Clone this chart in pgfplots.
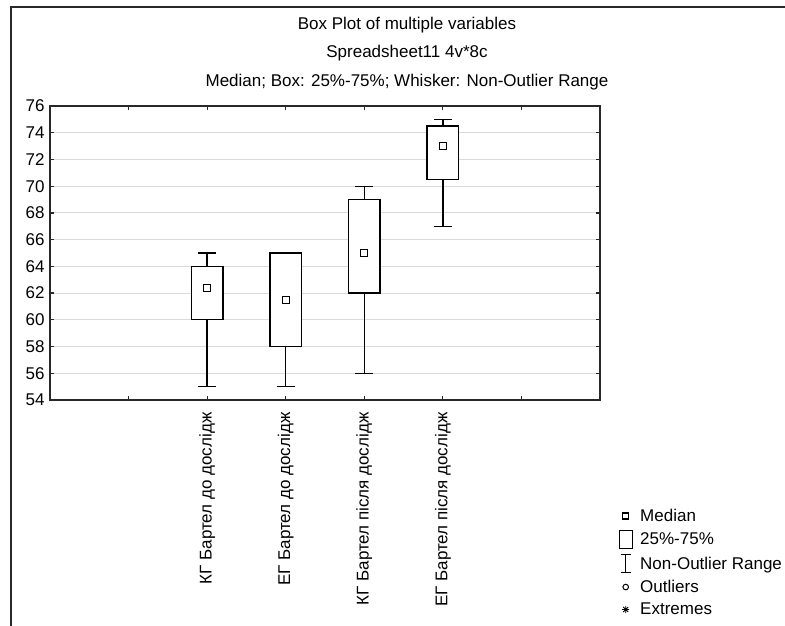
\documentclass[border=0pt]{standalone}
\usepackage{pgfplots}
\pgfplotsset{compat=1.18}
\usepackage{fontspec}
\setmainfont{Liberation Sans}
\newcommand{\ff}{\fontsize{17bp}{20bp}\selectfont}
\definecolor{gridgray}{RGB}{218,218,218}
\definecolor{axisdark}{RGB}{40,40,40}
\begin{document}
\begin{tikzpicture}
\path[use as bounding box] (0,0) rectangle (785bp,626bp);
\draw[line width=1.4bp, axisdark] (11bp,0) -- (11bp,619bp) -- (785bp,619bp);
\node[anchor=base, font=\ff] at (407bp,596bp) {Box Plot of multiple variables};
\node[anchor=base, font=\ff] at (407bp,568bp) {Spreadsheet11 4v*8c};
\node[anchor=base, font=\ff] at (407bp,539bp) {Median; Box: 25\%-75\%; Whisker: Non-Outlier Range};
\begin{axis}[
  at={(50bp,226bp)}, anchor=south west,
  scale only axis, width=550bp, height=294bp,
  xmin=0, xmax=7, ymin=54, ymax=76,
  ytick={54,56,...,76},
  xtick={1,2,3,4,5,6},
  xticklabels={{},{КГ Бартел до дослідж},{ЕГ Бартел до дослідж},{КГ Бартел після дослідж},{ЕГ Бартел після дослідж},{}},
  /pgf/number format/assume math mode=true,
  tick label style={font=\ff},
  yticklabel style={xshift=-2bp},
  xticklabel style={yshift=-9bp, rotate=90, anchor=east},
  tick align=inside, major tick length=4bp,
  every tick/.style={axisdark, line width=1.2bp},
  axis line style={axisdark, line width=1.4bp},
  ymajorgrids, grid style={gridgray, line width=1bp},
  legend cell align=left,
  legend style={at={(1.0255,-0.357)}, anchor=north west, draw=none, fill=none, font=\ff, row sep=5bp},
]
% whiskers (lower whisker -> upper whisker)
\addplot[black, line width=1.3bp, forget plot] coordinates {(2,55) (2,65)};
\addplot[black, line width=1.3bp, forget plot] coordinates {(3,55) (3,65)};
\addplot[black, line width=1.3bp, forget plot] coordinates {(4,56) (4,70)};
\addplot[black, line width=1.3bp, forget plot] coordinates {(5,67) (5,75)};
% whisker caps
\addplot[black, line width=1.3bp, forget plot] coordinates {(1.885,55) (2.115,55)};
\addplot[black, line width=1.3bp, forget plot] coordinates {(1.885,65) (2.115,65)};
\addplot[black, line width=1.3bp, forget plot] coordinates {(2.885,55) (3.115,55)};
\addplot[black, line width=1.3bp, forget plot] coordinates {(3.885,56) (4.115,56)};
\addplot[black, line width=1.3bp, forget plot] coordinates {(3.885,70) (4.115,70)};
\addplot[black, line width=1.3bp, forget plot] coordinates {(4.885,67) (5.115,67)};
\addplot[black, line width=1.3bp, forget plot] coordinates {(4.885,75) (5.115,75)};
% boxes 25%-75%
\addplot[draw=black, fill=white, line width=1.3bp, forget plot] coordinates {(1.8,60) (2.2,60) (2.2,64) (1.8,64)} -- cycle;
\addplot[draw=black, fill=white, line width=1.3bp, forget plot] coordinates {(2.8,58) (3.2,58) (3.2,65) (2.8,65)} -- cycle;
\addplot[draw=black, fill=white, line width=1.3bp, forget plot] coordinates {(3.8,62) (4.2,62) (4.2,69) (3.8,69)} -- cycle;
\addplot[draw=black, fill=white, line width=1.3bp, forget plot] coordinates {(4.8,70.5) (5.2,70.5) (5.2,74.5) (4.8,74.5)} -- cycle;
% medians
\addplot[only marks, mark=square, mark size=3.4bp, black, line width=1.2bp, forget plot] coordinates {(2,62.4) (3,61.5) (4,65) (5,73)};
\addlegendimage{legend image code/.code={\path[draw=none,fill=none] (0,0) (0.6cm+4bp,0);\draw[black, line width=1.1bp] (0.3cm-3bp,-3bp) rectangle (0.3cm+3bp,3bp);}}
\addlegendentry{Median}
\addlegendimage{legend image code/.code={\path[draw=none,fill=none] (0,0) (0.6cm+4bp,0);\draw[black, line width=1.1bp] (0.3cm-6.5bp,-9bp) rectangle (0.3cm+6.5bp,9bp);}}
\addlegendentry{25\%-75\%}
\addlegendimage{legend image code/.code={\path[draw=none,fill=none] (0,0) (0.6cm+4bp,0);\draw[black, line width=1.1bp] (0.3cm-5bp,9bp) -- (0.3cm+5bp,9bp) (0.3cm,9bp) -- (0.3cm,-9bp) (0.3cm-5bp,-9bp) -- (0.3cm+5bp,-9bp);}}
\addlegendentry{Non-Outlier Range}
\addlegendimage{legend image code/.code={\path[draw=none,fill=none] (0,0) (0.6cm+4bp,0);\draw[black, line width=1bp] (0.3cm,0) circle (2.8bp);}}
\addlegendentry{Outliers}
\addlegendimage{legend image code/.code={\path[draw=none,fill=none] (0,0) (0.6cm+4bp,0);\draw[black, line width=0.9bp] (0.3cm-3.5bp,0) -- (0.3cm+3.5bp,0) (0.3cm-2.5bp,-2.5bp) -- (0.3cm+2.5bp,2.5bp) (0.3cm-2.5bp,2.5bp) -- (0.3cm+2.5bp,-2.5bp) (0.3cm,-3.5bp) -- (0.3cm,3.5bp);}}
\addlegendentry{Extremes}
\end{axis}
\end{tikzpicture}
\end{document}
